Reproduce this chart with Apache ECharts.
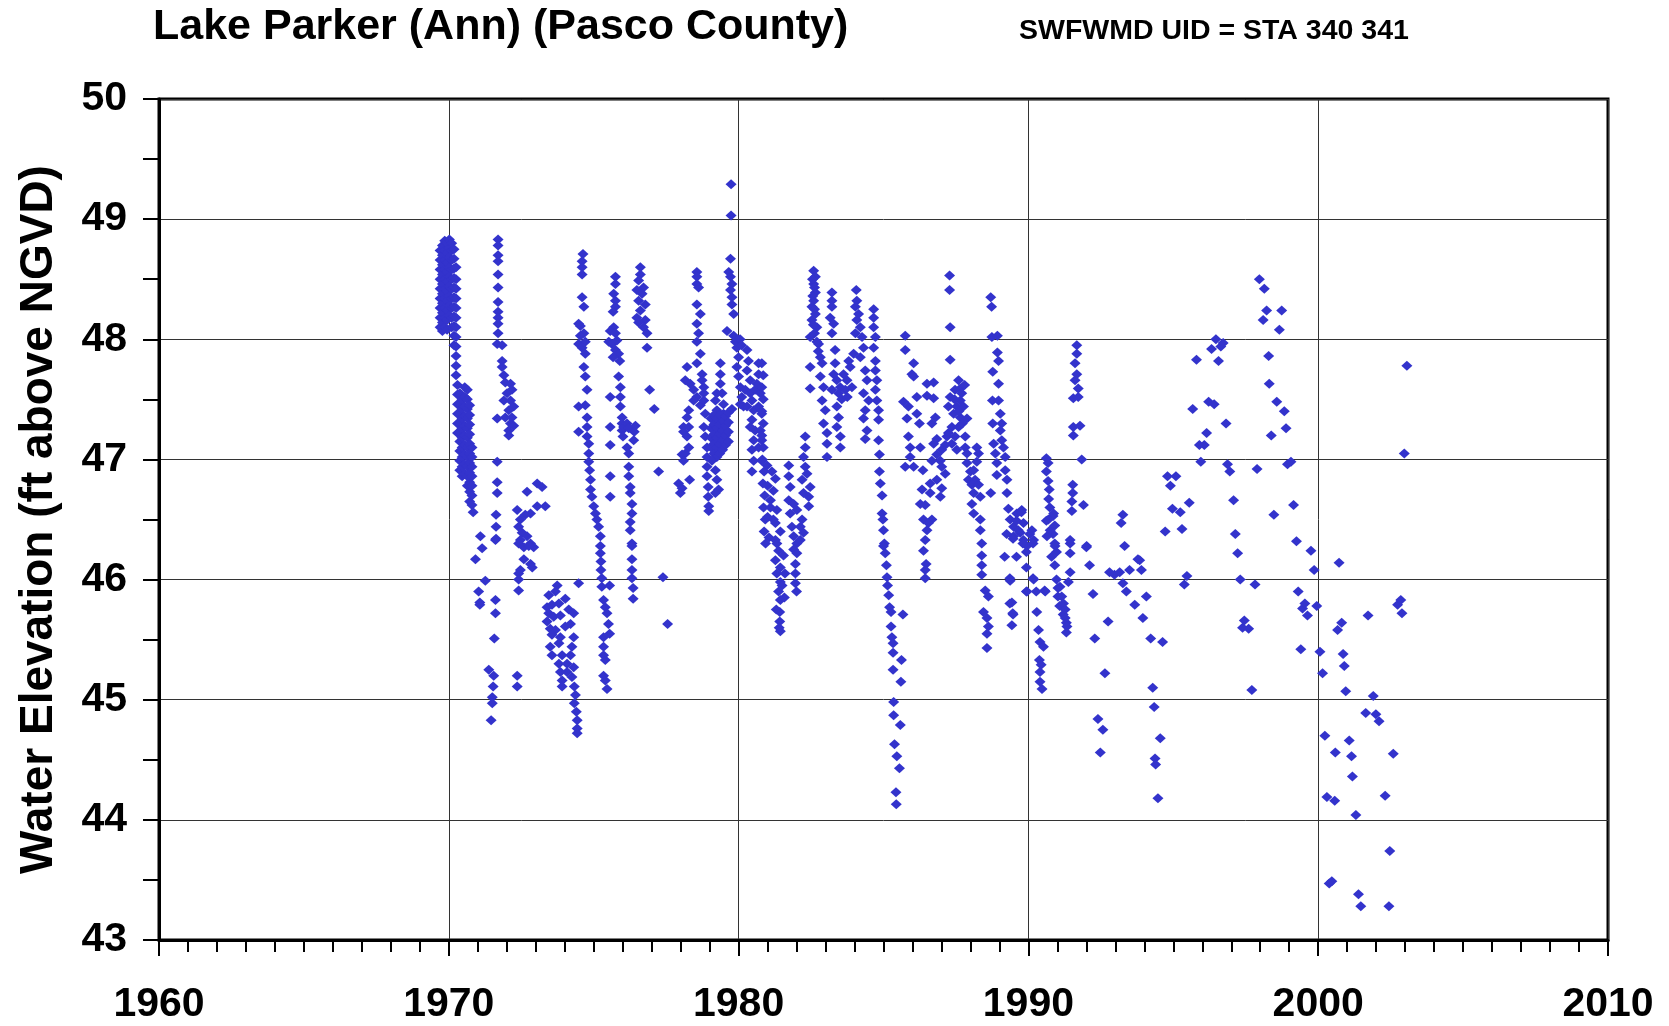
<!DOCTYPE html>
<html>
<head>
<meta charset="utf-8">
<title>Lake Parker (Ann) (Pasco County)</title>
<script src="https://cdn.jsdelivr.net/npm/echarts@6/dist/echarts.min.js"></script>
<style>
    html, body { margin: 0; padding: 0; background: #fff; }
    #lakeLevelChart { width: 1669px; height: 1026px; }
</style>
</head>
<body>
<div id="lakeLevelChart"></div>
<script>
    const obs1969to1971 = [
        [1969.70, 48.10], [1969.70, 48.18], [1969.70, 48.26], [1969.70, 48.34], [1969.70, 48.42], [1969.70, 48.50], [1969.70, 48.58], [1969.70, 48.66], [1969.70, 48.74],
        [1969.78, 48.07], [1969.78, 48.14], [1969.78, 48.22], [1969.78, 48.30], [1969.78, 48.38], [1969.78, 48.46], [1969.78, 48.54], [1969.78, 48.62], [1969.78, 48.70], [1969.78, 48.78],
        [1969.86, 48.10], [1969.86, 48.18], [1969.86, 48.26], [1969.86, 48.34], [1969.86, 48.42], [1969.86, 48.50], [1969.86, 48.58], [1969.86, 48.66], [1969.86, 48.74], [1969.86, 48.82],
        [1969.94, 48.08], [1969.94, 48.16], [1969.94, 48.24], [1969.94, 48.32], [1969.94, 48.40], [1969.94, 48.48], [1969.94, 48.56], [1969.94, 48.64], [1969.94, 48.72], [1969.94, 48.80],
        [1970.02, 48.20], [1970.02, 48.28], [1970.02, 48.36], [1970.02, 48.44], [1970.02, 48.52], [1970.02, 48.60], [1970.02, 48.68], [1970.02, 48.76], [1970.02, 48.83],
        [1970.10, 48.10], [1970.10, 48.18], [1970.10, 48.26], [1970.10, 48.34], [1970.10, 48.42], [1970.10, 48.50], [1970.10, 48.58], [1970.10, 48.66], [1970.10, 48.74], [1970.10, 48.80],
        [1970.18, 47.95], [1970.18, 48.03], [1970.18, 48.11], [1970.18, 48.19], [1970.18, 48.27], [1970.18, 48.35], [1970.18, 48.43], [1970.18, 48.51], [1970.18, 48.59], [1970.18, 48.67], [1970.18, 48.75],
        [1970.25, 47.70], [1970.25, 47.78], [1970.25, 47.86], [1970.25, 47.94], [1970.25, 48.02], [1970.25, 48.10], [1970.25, 48.18], [1970.25, 48.26], [1970.25, 48.34], [1970.25, 48.42], [1970.25, 48.50], [1970.25, 48.60],
        [1970.30, 47.62], [1970.30, 47.54], [1970.30, 47.46], [1970.30, 47.38], [1970.30, 47.30], [1970.30, 47.22],
        [1970.38, 47.55], [1970.38, 47.47], [1970.38, 47.39], [1970.38, 47.31], [1970.38, 47.23], [1970.38, 47.15], [1970.38, 47.07], [1970.38, 46.99], [1970.38, 46.91],
        [1970.46, 47.50], [1970.46, 47.42], [1970.46, 47.34], [1970.46, 47.26], [1970.46, 47.18], [1970.46, 47.10], [1970.46, 47.02], [1970.46, 46.94], [1970.46, 46.86],
        [1970.55, 47.60], [1970.55, 47.52], [1970.55, 47.44], [1970.55, 47.36], [1970.55, 47.28], [1970.55, 47.20], [1970.55, 47.12], [1970.55, 47.04], [1970.55, 46.96], [1970.55, 46.88],
        [1970.64, 47.58], [1970.64, 47.50], [1970.64, 47.42], [1970.64, 47.34], [1970.64, 47.26], [1970.64, 47.18], [1970.64, 47.10], [1970.64, 47.02], [1970.64, 46.94], [1970.64, 46.86], [1970.64, 46.78],
        [1970.72, 47.45], [1970.72, 47.37], [1970.72, 47.29], [1970.72, 47.21], [1970.72, 47.13], [1970.72, 47.05], [1970.72, 46.97], [1970.72, 46.89], [1970.72, 46.81], [1970.72, 46.73], [1970.72, 46.65],
        [1970.80, 47.10], [1970.80, 47.02], [1970.80, 46.94], [1970.80, 46.86], [1970.80, 46.78], [1970.80, 46.70], [1970.80, 46.62], [1970.84, 46.56],
        [1971.09, 46.36], [1971.15, 46.26], [1970.92, 46.17], [1971.26, 45.99], [1971.03, 45.90], [1971.07, 45.81], [1971.07, 45.79],
        [1971.61, 45.83], [1971.61, 45.72], [1971.57, 45.51], [1971.38, 45.25], [1971.55, 45.20], [1971.53, 45.11], [1971.50, 45.02], [1971.50, 44.97], [1971.46, 44.83]
    ];

    const obs1971to1975 = [
        [1971.70, 48.83], [1971.70, 48.78], [1971.70, 48.70], [1971.70, 48.65], [1971.70, 48.54], [1971.70, 48.43], [1971.70, 48.31], [1971.70, 48.23],
        [1971.70, 48.18], [1971.70, 48.13], [1971.70, 48.05], [1971.67, 47.96], [1971.84, 47.95], [1971.84, 47.82], [1971.84, 47.77], [1971.90, 47.70],
        [1971.95, 47.64], [1972.13, 47.63], [1972.18, 47.58], [1972.01, 47.55], [1971.90, 47.49], [1972.13, 47.49], [1972.24, 47.44], [1972.07, 47.41],
        [1971.95, 47.35], [1972.18, 47.35], [1972.13, 47.30], [1972.24, 47.28], [1972.07, 47.24], [1972.07, 47.20], [1971.67, 47.34],
        [1971.67, 46.98], [1971.67, 46.81], [1971.67, 46.72], [1971.63, 46.54], [1971.63, 46.44], [1971.63, 46.34], [1971.61, 46.33],
        [1972.70, 46.73], [1973.05, 46.80], [1973.22, 46.77], [1973.33, 46.61], [1973.05, 46.61], [1972.82, 46.55], [1972.64, 46.54], [1972.36, 46.58],
        [1972.47, 46.50], [1972.41, 46.44], [1972.53, 46.39], [1972.70, 46.36], [1972.82, 46.30], [1972.47, 46.33], [1972.93, 46.27],
        [1972.41, 46.30], [1972.59, 46.27], [1972.76, 46.28], [1972.82, 46.13], [1972.88, 46.10], [1972.59, 46.17], [1972.47, 46.08], [1972.41, 46.05],
        [1972.41, 46.00], [1972.41, 45.91], [1972.36, 45.20], [1972.36, 45.11],
        [1973.74, 45.95], [1974.48, 45.97], [1973.45, 45.87], [1973.68, 45.90], [1974.02, 45.84], [1973.39, 45.77], [1973.56, 45.79], [1973.80, 45.80],
        [1974.14, 45.75], [1974.31, 45.72], [1973.45, 45.72], [1973.62, 45.69], [1973.85, 45.70], [1974.20, 45.63], [1973.39, 45.65], [1973.50, 45.59],
        [1973.68, 45.58], [1974.02, 45.61], [1973.85, 45.52], [1973.56, 45.54], [1974.31, 45.52], [1973.50, 45.44], [1973.80, 45.47], [1974.25, 45.44],
        [1973.56, 45.37], [1973.91, 45.37], [1974.20, 45.37], [1973.80, 45.30], [1974.08, 45.30], [1974.31, 45.27], [1973.85, 45.23], [1974.08, 45.23],
        [1973.91, 45.16], [1974.25, 45.19], [1973.91, 45.11], [1974.33, 45.11], [1974.37, 45.04], [1974.33, 44.97], [1974.40, 44.90], [1974.43, 44.83],
        [1974.43, 44.76], [1974.43, 44.72],
        [1974.63, 48.71], [1974.60, 48.65], [1974.60, 48.60], [1974.60, 48.54], [1974.60, 48.35], [1974.66, 48.27], [1974.54, 48.11], [1974.48, 48.13],
        [1974.66, 48.05], [1974.54, 48.03], [1974.48, 47.96], [1974.71, 47.98], [1974.60, 47.93], [1974.71, 47.88], [1974.66, 47.77], [1974.71, 47.69],
        [1974.77, 47.58], [1974.48, 47.44], [1974.71, 47.45], [1974.77, 47.35], [1974.77, 47.27], [1974.48, 47.23], [1974.77, 47.19], [1974.83, 47.13],
        [1974.83, 47.05], [1974.83, 46.98], [1974.86, 46.91], [1974.89, 46.83], [1974.89, 46.75], [1974.94, 46.69], [1975.00, 46.61], [1975.06, 46.55],
        [1975.11, 46.50], [1975.17, 46.44], [1975.23, 46.36], [1975.23, 46.28], [1975.23, 46.22], [1975.25, 46.15], [1975.25, 46.08], [1975.28, 46.01],
        [1975.28, 45.94], [1975.55, 45.95], [1975.34, 45.83], [1975.40, 45.77], [1975.46, 45.72], [1975.51, 45.63], [1975.55, 45.55], [1975.34, 45.52],
        [1975.34, 45.44], [1975.34, 45.37], [1975.40, 45.33], [1975.34, 45.20], [1975.40, 45.16], [1975.46, 45.09]
    ];

    const obs1975to1980 = [
        [1975.75, 48.52], [1975.75, 48.46], [1975.69, 48.38], [1975.75, 48.32], [1975.75, 48.27], [1975.67, 48.23], [1975.69, 48.10], [1975.57, 48.07],
        [1975.52, 47.98], [1975.75, 48.05], [1975.63, 47.96], [1975.80, 47.99], [1975.75, 47.91], [1975.86, 47.88], [1975.67, 47.85], [1975.90, 47.82],
        [1975.57, 47.52], [1975.86, 47.69], [1975.92, 47.60], [1975.92, 47.52], [1975.92, 47.44], [1975.98, 47.35], [1975.98, 47.30], [1975.98, 47.24],
        [1975.57, 47.27], [1975.57, 47.12], [1976.01, 47.19], [1976.03, 47.27], [1976.15, 47.30], [1976.21, 47.26], [1976.44, 47.28], [1976.40, 47.23],
        [1976.38, 47.16], [1976.15, 47.10], [1976.21, 47.05], [1976.21, 46.94], [1976.21, 46.86], [1976.26, 46.77], [1976.26, 46.72], [1976.32, 46.63],
        [1976.32, 46.55], [1976.26, 46.48], [1976.26, 46.41], [1976.32, 46.30], [1975.57, 46.86], [1975.57, 46.69],
        [1976.32, 46.28], [1976.32, 46.17], [1976.32, 46.08], [1976.32, 46.01], [1976.36, 45.93], [1976.36, 45.84],
        [1976.61, 48.60], [1976.61, 48.54], [1976.55, 48.49], [1976.72, 48.43], [1976.49, 48.41], [1976.67, 48.38], [1976.55, 48.32], [1976.78, 48.29],
        [1976.61, 48.24], [1976.49, 48.18], [1976.78, 48.16], [1976.55, 48.14], [1976.72, 48.10], [1976.84, 48.05], [1976.84, 47.93], [1976.93, 47.58],
        [1977.09, 47.42], [1977.24, 46.90], [1977.39, 46.02], [1977.55, 45.63],
        [1978.56, 48.56], [1978.56, 48.52], [1978.56, 48.46], [1978.62, 48.43], [1978.56, 48.29], [1978.68, 48.21], [1978.56, 48.13], [1978.62, 48.05],
        [1978.56, 47.98], [1978.68, 47.88], [1978.56, 47.80], [1978.22, 47.77], [1978.16, 47.66], [1978.33, 47.63], [1978.45, 47.58], [1978.74, 47.71],
        [1978.74, 47.66], [1978.80, 47.55], [1978.56, 47.52], [1978.68, 47.45], [1978.45, 47.49], [1978.28, 47.41], [1978.22, 47.35], [1978.10, 47.27],
        [1978.28, 47.27], [1978.10, 47.23], [1978.22, 47.19], [1978.28, 47.10], [1978.16, 47.05], [1978.05, 47.04], [1978.10, 46.99], [1977.93, 46.80],
        [1978.05, 46.76], [1977.99, 46.72], [1978.31, 46.83],
        [1978.80, 47.60], [1978.80, 47.49], [1978.85, 47.38], [1978.80, 47.27], [1978.85, 47.19], [1978.91, 47.10], [1978.91, 47.02], [1978.91, 46.94],
        [1978.91, 46.86], [1978.95, 46.77], [1978.95, 46.69], [1978.97, 46.61], [1978.97, 46.57],
        [1979.37, 47.80], [1979.37, 47.71], [1979.37, 47.63], [1979.25, 47.55], [1979.43, 47.55], [1979.20, 47.49], [1979.48, 47.46], [1979.25, 47.41],
        [1979.48, 47.38], [1979.05, 47.10], [1979.05, 47.18], [1979.05, 47.26], [1979.05, 47.34], [1979.15, 47.05], [1979.15, 47.13], [1979.15, 47.21],
        [1979.15, 47.29], [1979.15, 47.37], [1979.25, 47.02], [1979.25, 47.10], [1979.25, 47.18], [1979.25, 47.26], [1979.25, 47.34], [1979.35, 47.05],
        [1979.35, 47.13], [1979.35, 47.21], [1979.35, 47.29], [1979.35, 47.37], [1979.45, 47.08], [1979.45, 47.16], [1979.45, 47.24], [1979.45, 47.32],
        [1979.55, 47.12], [1979.55, 47.20], [1979.55, 47.28], [1979.55, 47.36], [1979.65, 47.15], [1979.65, 47.23], [1979.65, 47.31], [1979.65, 47.39],
        [1979.77, 47.42], [1979.08, 46.99], [1979.20, 46.91], [1979.25, 46.83], [1979.31, 46.75], [1979.20, 46.72],
        [1979.74, 49.29], [1979.74, 49.03], [1979.72, 48.67], [1979.66, 48.56], [1979.72, 48.52], [1979.77, 48.46], [1979.72, 48.41], [1979.77, 48.35],
        [1979.77, 48.29], [1979.83, 48.21], [1979.60, 48.07], [1979.83, 48.03], [1979.89, 47.98]
    ];

    const obs1980to1983 = [
        [1979.94, 47.93], [1980.00, 47.85], [1979.94, 47.77], [1980.00, 47.69], [1980.06, 47.60], [1980.11, 47.52], [1980.17, 47.44], [1980.06, 47.46],
        [1980.05, 48.00], [1980.10, 47.95], [1980.29, 47.91], [1980.34, 47.82], [1980.29, 47.74], [1980.40, 47.66], [1980.23, 47.58], [1980.40, 47.55],
        [1980.57, 47.58], [1980.69, 47.80], [1980.69, 47.71], [1980.63, 47.63], [1980.75, 47.55], [1980.46, 47.49], [1980.29, 47.44], [1980.52, 47.41],
        [1980.69, 47.44], [1980.80, 47.38], [1980.46, 47.33], [1980.40, 47.27], [1980.57, 47.24], [1980.75, 47.24], [1980.80, 47.16], [1980.52, 47.16],
        [1980.46, 47.08], [1980.69, 47.10], [1980.52, 46.99], [1980.80, 46.99], [1980.46, 46.90],
        [1980.80, 47.80], [1980.85, 47.70], [1980.80, 47.60], [1980.85, 47.50], [1980.80, 47.40], [1980.85, 47.30], [1980.80, 47.20], [1980.85, 47.10],
        [1980.82, 47.00], [1980.88, 46.90], [1980.84, 46.80], [1980.90, 46.70], [1980.86, 46.60], [1980.92, 46.50], [1980.88, 46.40], [1980.93, 46.30],
        [1980.98, 46.95], [1981.15, 46.90], [1981.27, 46.84], [1981.00, 46.78], [1981.20, 46.74], [1981.10, 46.66], [1981.32, 46.58], [1981.00, 46.52],
        [1981.27, 46.47], [1981.44, 46.40], [1981.32, 46.30], [1981.10, 46.60], [1981.05, 46.35], [1981.20, 46.50],
        [1981.27, 46.33], [1981.38, 46.24], [1981.27, 46.16], [1981.44, 46.10], [1981.32, 46.05], [1981.44, 45.98], [1981.38, 45.90], [1981.44, 45.83],
        [1981.42, 45.73], [1981.42, 45.65], [1981.44, 45.57], [1981.55, 46.20], [1981.60, 46.05], [1981.50, 45.95], [1981.58, 45.85], [1981.30, 45.75],
        [1981.40, 45.60],
        [1981.73, 46.95], [1981.73, 46.86], [1981.78, 46.77], [1981.73, 46.66], [1981.90, 46.63], [1981.78, 46.55], [1982.01, 46.58], [1981.84, 46.44],
        [1981.90, 46.36], [1982.01, 46.30], [1981.90, 46.25], [1982.01, 46.22], [1981.96, 46.13], [1981.96, 46.05], [1981.96, 45.97], [1982.00, 45.90],
        [1982.30, 47.19], [1982.30, 47.10], [1982.24, 47.02], [1982.30, 46.94], [1982.19, 46.83], [1982.36, 46.88], [1982.47, 46.77], [1982.24, 46.72],
        [1982.42, 46.69], [1982.42, 46.61], [1982.13, 46.44], [1982.19, 46.50], [1982.24, 46.39], [1982.13, 46.33],
        [1982.59, 48.57], [1982.65, 48.52], [1982.59, 48.46], [1982.65, 48.39], [1982.59, 48.32], [1982.53, 48.27], [1982.65, 48.21], [1982.53, 48.16],
        [1982.70, 48.10], [1982.47, 48.02], [1982.76, 47.96], [1982.82, 47.85], [1982.47, 47.77], [1982.47, 47.59], [1982.88, 47.80], [1982.82, 47.69],
        [1982.93, 47.60], [1982.88, 47.49], [1982.99, 47.41], [1982.93, 47.30], [1983.05, 47.22], [1983.05, 47.13], [1983.05, 47.02],
        [1982.55, 48.50], [1982.62, 48.43], [1982.56, 48.36], [1982.62, 48.25], [1982.58, 48.12], [1982.62, 48.05], [1982.70, 47.98], [1982.75, 47.90]
    ];

    const obs1983to1987 = [
        [1983.22, 48.39], [1983.22, 48.32], [1983.22, 48.27], [1983.16, 48.18], [1983.28, 48.13], [1983.22, 48.05], [1983.33, 47.91], [1983.33, 47.80],
        [1983.28, 47.71], [1983.39, 47.66], [1983.22, 47.58], [1983.45, 47.55], [1983.39, 47.44], [1983.45, 47.35], [1983.39, 47.27], [1983.51, 47.19],
        [1983.51, 47.10], [1983.62, 47.71], [1983.80, 47.82], [1983.97, 47.88], [1983.74, 47.66], [1983.85, 47.77], [1983.51, 47.60], [1983.68, 47.58],
        [1983.91, 47.60], [1983.56, 47.50], [1983.75, 47.52],
        [1984.06, 48.41], [1984.08, 48.32], [1984.03, 48.27], [1984.14, 48.21], [1984.08, 48.16], [1984.20, 48.10], [1984.03, 48.05], [1984.26, 48.02],
        [1984.31, 47.93], [1984.20, 47.85], [1984.37, 47.74], [1984.43, 47.66], [1984.31, 47.55], [1984.49, 47.49], [1984.37, 47.41], [1984.31, 47.34],
        [1984.43, 47.24], [1984.37, 47.17],
        [1984.66, 48.25], [1984.66, 48.18], [1984.66, 48.10], [1984.72, 48.02], [1984.66, 47.93], [1984.72, 47.82], [1984.72, 47.74], [1984.77, 47.66],
        [1984.72, 47.58], [1984.77, 47.49], [1984.83, 47.41], [1984.83, 47.33], [1984.83, 47.16], [1984.86, 47.04], [1984.86, 46.90], [1984.89, 46.80],
        [1984.95, 46.70], [1984.95, 46.55], [1984.98, 46.50], [1985.00, 46.41], [1985.03, 46.30], [1985.00, 46.28], [1985.06, 46.22], [1985.10, 46.12],
        [1985.12, 46.02], [1985.14, 45.95], [1985.18, 45.87], [1985.21, 45.77], [1985.26, 45.73], [1985.67, 45.71], [1985.26, 45.61], [1985.29, 45.52],
        [1985.33, 45.47], [1985.33, 45.39], [1985.62, 45.33], [1985.33, 45.25], [1985.60, 45.15], [1985.35, 44.98], [1985.35, 44.87], [1985.58, 44.79],
        [1985.38, 44.63], [1985.46, 44.53], [1985.55, 44.43], [1985.43, 44.23], [1985.44, 44.13],
        [1985.75, 48.03], [1985.75, 47.91], [1986.04, 47.80], [1986.04, 47.69], [1985.98, 47.71], [1985.69, 47.48], [1985.86, 47.44], [1986.15, 47.52],
        [1985.81, 47.34], [1986.15, 47.38], [1986.24, 47.30], [1985.86, 47.19], [1985.92, 47.10], [1986.27, 47.10], [1985.92, 47.02], [1985.75, 46.94],
        [1986.04, 46.94], [1986.36, 46.91], [1986.33, 46.75], [1986.27, 46.63], [1986.38, 46.50], [1986.50, 46.41], [1986.44, 46.33], [1986.38, 46.24],
        [1986.47, 46.13], [1986.44, 46.08], [1986.44, 46.01],
        [1986.50, 47.63], [1986.73, 47.64], [1986.50, 47.53], [1986.73, 47.51], [1986.79, 47.35], [1986.67, 47.30], [1986.84, 47.17], [1986.73, 47.13],
        [1987.13, 47.12], [1987.19, 47.19], [1987.01, 47.08], [1986.84, 47.04], [1986.67, 46.99], [1986.96, 46.99], [1987.01, 46.94], [1987.13, 46.88],
        [1986.84, 46.83], [1987.01, 46.76], [1986.96, 46.69], [1986.61, 46.80], [1986.61, 46.72], [1986.44, 46.62], [1986.67, 46.50], [1986.55, 46.47]
    ];

    const obs1987to1992 = [
        [1987.28, 48.53], [1987.28, 48.41], [1987.30, 48.10], [1987.30, 47.83], [1987.59, 47.66], [1987.65, 47.59], [1987.47, 47.58], [1987.30, 47.52],
        [1987.65, 47.49], [1987.53, 47.44], [1987.76, 47.44], [1987.24, 47.44], [1987.42, 47.38], [1987.65, 47.35], [1987.88, 47.34], [1987.36, 47.27],
        [1987.59, 47.27], [1987.24, 47.22], [1987.47, 47.19], [1987.82, 47.19], [1987.36, 47.13], [1987.53, 47.08], [1987.82, 47.10], [1987.70, 47.55],
        [1987.80, 47.62], [1987.72, 47.30], [1987.60, 47.40], [1987.45, 47.50],
        [1987.88, 47.05], [1987.88, 46.97], [1988.00, 46.90], [1987.93, 46.83], [1988.22, 47.10], [1988.28, 47.05], [1988.22, 46.98], [1988.11, 46.91],
        [1988.16, 46.83], [1988.05, 46.79], [1988.11, 46.72], [1988.28, 46.79], [1988.34, 46.69], [1988.05, 46.63], [1988.11, 46.55], [1988.34, 46.50],
        [1988.34, 46.41], [1988.39, 46.30], [1988.39, 46.20], [1988.39, 46.12], [1988.39, 46.04], [1988.51, 45.91], [1988.62, 45.86], [1988.45, 45.73],
        [1988.57, 45.68], [1988.62, 45.61], [1988.57, 45.55], [1988.57, 45.43],
        [1988.70, 48.35], [1988.73, 48.27], [1988.74, 48.02], [1988.93, 48.03], [1988.93, 47.89], [1988.97, 47.82], [1988.77, 47.73], [1988.97, 47.63],
        [1988.76, 47.49], [1988.97, 47.49], [1989.03, 47.38], [1989.08, 47.30], [1988.77, 47.30], [1989.03, 47.24], [1988.80, 47.13], [1989.08, 47.16],
        [1989.14, 47.10], [1988.86, 47.05], [1989.20, 47.02], [1988.91, 46.97], [1989.20, 46.91], [1988.91, 46.87], [1989.26, 46.83], [1988.70, 46.72],
        [1989.26, 46.72], [1989.31, 46.59], [1989.37, 46.50], [1989.49, 46.44], [1989.60, 46.55], [1989.72, 46.39], [1989.77, 46.58], [1989.83, 46.47],
        [1989.49, 46.36], [1989.83, 46.33], [1990.12, 46.41], [1990.18, 46.33], [1989.95, 46.28], [1989.59, 46.49], [1989.65, 46.41], [1989.47, 46.34],
        [1989.81, 46.30], [1989.93, 46.23], [1990.05, 46.38], [1990.16, 46.30], [1989.59, 46.19], [1989.93, 46.10], [1990.16, 46.01], [1989.93, 45.90],
        [1990.27, 45.90], [1990.56, 45.91], [1989.36, 46.01], [1989.18, 46.19], [1989.36, 45.80], [1989.47, 45.71], [1989.25, 46.38], [1989.76, 46.56],
        [1989.37, 45.99], [1989.43, 45.81], [1989.46, 45.72], [1989.43, 45.62], [1989.95, 45.90], [1990.18, 46.00], [1990.29, 45.73], [1990.35, 45.58],
        [1990.40, 45.48], [1990.52, 45.44], [1990.38, 45.33], [1990.44, 45.29], [1990.40, 45.23], [1990.40, 45.15], [1990.47, 45.09], [1990.58, 45.90],
        [1990.62, 47.01], [1990.68, 46.97], [1990.62, 46.90], [1990.68, 46.82], [1990.72, 46.75], [1990.70, 46.67], [1990.74, 46.60], [1990.85, 46.53],
        [1990.62, 46.49], [1990.91, 46.45], [1990.85, 46.38], [1990.91, 46.30], [1990.97, 46.23], [1990.80, 46.19], [1990.91, 46.12], [1990.97, 46.00],
        [1991.02, 45.93], [1991.02, 45.86], [1991.08, 45.78], [1991.20, 45.71], [1991.31, 45.64], [1991.31, 45.56], [1991.09, 45.94], [1991.15, 45.86],
        [1991.21, 45.80], [1991.27, 45.75], [1991.27, 45.68], [1991.33, 45.61], [1991.38, 45.98], [1991.44, 46.06], [1991.44, 46.22], [1991.44, 46.30],
        [1990.69, 46.50], [1990.87, 46.55], [1990.75, 46.41], [1990.64, 46.36], [1990.92, 46.28],
        [1991.67, 47.95], [1991.67, 47.88], [1991.61, 47.80], [1991.67, 47.71], [1991.61, 47.66], [1991.72, 47.59], [1991.55, 47.51], [1991.72, 47.52],
        [1991.55, 47.27], [1991.78, 47.28], [1991.55, 47.20], [1991.84, 47.00], [1991.53, 46.79], [1991.53, 46.72], [1991.50, 46.65], [1991.50, 46.57],
        [1991.90, 46.62], [1991.44, 46.33], [1992.01, 46.28]
    ];

    const obs1992to2003 = [
        [1992.00, 46.27], [1992.11, 46.12], [1992.23, 45.88], [1992.29, 45.51], [1992.40, 44.84], [1992.57, 44.75], [1992.48, 44.56], [1992.64, 45.22],
        [1992.75, 45.65], [1992.80, 46.06], [1992.97, 46.04], [1993.15, 46.06], [1993.26, 45.97], [1993.38, 45.90], [1993.49, 46.08], [1993.32, 46.28],
        [1993.26, 46.54], [1993.20, 46.47], [1993.67, 45.79], [1993.84, 46.16], [1993.78, 46.17], [1993.95, 45.68], [1994.07, 45.86], [1993.90, 46.08],
        [1994.22, 45.51], [1994.63, 45.48], [1994.29, 45.10], [1994.34, 44.94], [1994.55, 44.68], [1994.37, 44.51], [1994.39, 44.46], [1994.47, 44.18],
        [1994.80, 46.86], [1995.09, 46.86], [1994.90, 46.78], [1995.55, 46.64], [1994.97, 46.59], [1995.24, 46.56], [1994.72, 46.40], [1995.30, 46.42],
        [1995.47, 46.03], [1995.38, 45.96],
        [1995.80, 47.83], [1995.67, 47.42], [1995.90, 47.12], [1995.95, 46.98], [1996.07, 47.12], [1996.15, 47.22], [1996.22, 47.48], [1996.32, 47.92],
        [1996.41, 47.46], [1996.47, 48.00], [1996.56, 47.82], [1996.64, 47.94], [1996.72, 47.97], [1996.82, 47.30], [1996.87, 46.96], [1996.95, 46.90],
        [1997.08, 46.66], [1997.14, 46.38], [1997.22, 46.22], [1997.31, 46.00], [1997.39, 45.60], [1997.45, 45.66], [1997.60, 45.59], [1997.71, 45.08],
        [1997.82, 45.96], [1997.89, 46.92], [1997.97, 48.50], [1998.10, 48.16], [1998.14, 48.42], [1998.22, 48.24], [1998.29, 47.86], [1998.31, 47.63],
        [1998.38, 47.20], [1998.47, 46.54], [1998.57, 47.48], [1998.66, 48.08], [1998.74, 48.24], [1998.83, 47.40], [1998.89, 47.26], [1998.94, 46.96],
        [1999.06, 46.98], [1999.15, 46.62], [1999.25, 46.32], [1999.31, 45.90], [1999.40, 45.42], [1999.46, 45.76], [1999.54, 45.80], [1999.63, 45.70],
        [1999.75, 46.24], [1999.86, 46.08], [1999.95, 45.78], [2000.06, 45.40], [2000.15, 45.22], [2000.23, 44.70], [2000.30, 44.19], [2000.38, 43.47],
        [2000.47, 43.49], [2000.57, 44.16], [2000.59, 44.56], [2000.67, 45.58], [2000.72, 46.14], [2000.81, 45.64], [2000.86, 45.38], [2000.90, 45.28],
        [2000.95, 45.07], [2001.07, 44.66], [2001.15, 44.53], [2001.18, 44.36], [2001.30, 44.04], [2001.39, 43.38], [2001.47, 43.28], [2001.64, 44.89],
        [2001.72, 45.70], [2001.90, 45.03], [2001.99, 44.88], [2002.10, 44.82], [2002.31, 44.20], [2002.44, 43.28], [2002.47, 43.74], [2002.59, 44.55],
        [2002.74, 45.79], [2002.85, 45.83], [2002.89, 45.72], [2002.97, 47.05], [2003.06, 47.78]
    ];

    const xTicks = { min: 1960, max: 2010, step: 10 }
    const yTicks = { min: 43, max: 50, step: 1 }

    const observations = [].concat(obs1969to1971, obs1971to1975, obs1975to1980,
        obs1980to1983, obs1983to1987, obs1987to1992, obs1992to2003)

    const font = '"Liberation Sans", Arial, Helvetica, sans-serif'
    const myChart = echarts.init(document.getElementById('lakeLevelChart'))
    const option = {
        animation: false,
        backgroundColor: '#fff',
        title: [
            {
                text: 'Lake Parker (Ann) (Pasco County)',
                left: 153,
                top: 6,
                padding: 0,
                textStyle: { fontFamily: font, fontSize: 43, fontWeight: 'bold', color: '#000' }
            },
            {
                text: 'SWFWMD UID = STA 340 341',
                left: 1019,
                top: 17,
                padding: 0,
                textStyle: { fontFamily: font, fontSize: 28.5, fontWeight: 'bold', color: '#000' }
            }
        ],
        grid: {
            left: 159,
            right: 61,
            top: 99,
            bottom: 86,
            show: true,
            borderColor: '#000',
            borderWidth: 3
        },
        xAxis: {
            type: 'value',
            min: xTicks.min,
            max: xTicks.max,
            interval: xTicks.step,
            axisLine: { lineStyle: { color: '#000', width: 3 } },
            axisTick: { length: 16, lineStyle: { color: '#000', width: 2 } },
            minorTick: { show: true, splitNumber: 10, length: 12, lineStyle: { color: '#000', width: 2 } },
            splitLine: { show: true, lineStyle: { color: '#333', width: 1 } },
            axisLabel: {
                fontFamily: font, fontSize: 41, fontWeight: 'bold', color: '#000', margin: 44,
                formatter: (v) => String(v)
            }
        },
        yAxis: {
            type: 'value',
            min: yTicks.min,
            max: yTicks.max,
            interval: yTicks.step,
            name: 'Water Elevation (ft above NGVD)',
            nameLocation: 'middle',
            nameRotate: 90,
            nameGap: 97,
            nameTextStyle: { fontFamily: font, fontSize: 46, fontWeight: 'bold', color: '#000' },
            axisLine: { lineStyle: { color: '#000', width: 3 } },
            axisTick: { length: 16, lineStyle: { color: '#000', width: 2 } },
            minorTick: { show: true, splitNumber: 2, length: 16, lineStyle: { color: '#000', width: 2 } },
            splitLine: { show: true, lineStyle: { color: '#333', width: 1 } },
            axisLabel: { fontFamily: font, fontSize: 41, fontWeight: 'bold', color: '#000', margin: 32 }
        },
        series: [
            {
                name: 'Water Elevation',
                type: 'scatter',
                symbol: 'diamond',
                symbolSize: [11, 10],
                itemStyle: { color: '#3333CC', opacity: 1 },
                data: observations
            }
        ]
    }
    myChart.setOption(option)
</script>
</body>
</html>
